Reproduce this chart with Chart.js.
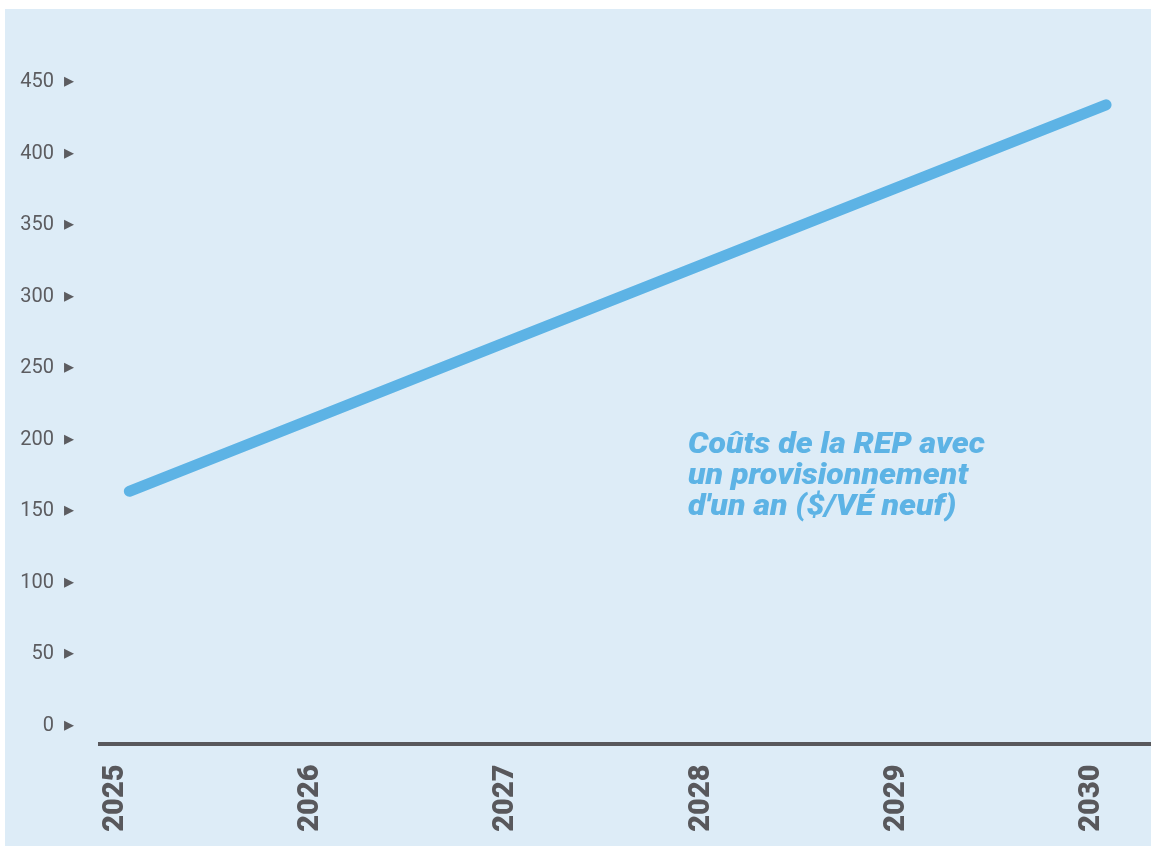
<!DOCTYPE html>
<html>
<head>
<meta charset="utf-8">
<script src="https://cdn.jsdelivr.net/npm/chart.js@4/dist/chart.umd.min.js"></script>
<style>
  html, body { margin: 0; padding: 0; background: #fff; overflow: hidden; }
  canvas { display: block; }
</style>
</head>
<body>
<canvas id="chart" width="1151" height="846"></canvas>
<script>
const years = [2025, 2026, 2027, 2028, 2029, 2030];
const costs = [164, 218, 272, 326, 380, 434];
const yTicks = [0, 50, 100, 150, 200, 250, 300, 350, 400, 450];
const noteLines = ["Coûts de la REP avec", "un provisionnement", "d'un an ($/VÉ neuf)"];

const blue = "#5db3e5";
const panel = "#ddecf7";
const grey = "#58585c";

// light blue panel behind everything
const panelBg = {
    id: "panelBg",
    beforeDraw(chart) {
        const ctx = chart.ctx;
        ctx.save();
        ctx.fillStyle = "#ffffff";
        ctx.fillRect(0, 0, chart.width, chart.height);
        ctx.fillStyle = panel;
        ctx.fillRect(5, 9, chart.width + 10, chart.height + 10);
        ctx.restore();
    }
};

// the series note on the right, stretched a bit to match the wide typeface
const note = {
    id: "note",
    afterDatasetsDraw(chart) {
        const ctx = chart.ctx;
        ctx.save();
        ctx.fillStyle = blue;
        ctx.font = "italic 900 29px Roboto, 'DejaVu Sans', sans-serif";
        ctx.textAlign = "left";
        ctx.textBaseline = "alphabetic";
        const sx = 297 / ctx.measureText(noteLines[0]).width;
        ctx.translate(688, 0);
        ctx.scale(sx, 1);
        noteLines.forEach((t, i) => ctx.fillText(t, 0, 453 + i * 31));
        ctx.restore();
    }
};

new Chart(document.getElementById("chart").getContext("2d"), {
    type: "line",
    data: {
        datasets: [{
            data: years.map((y, i) => ({ x: y, y: costs[i] })),
            borderColor: blue,
            borderWidth: 11,
            borderCapStyle: "round",
            borderJoinStyle: "round",
            pointRadius: 0,
            tension: 0,
            fill: false
        }]
    },
    options: {
        responsive: false,
        animation: false,
        layout: { padding: { top: 30, right: 0, bottom: 0, left: 0 } },
        plugins: { legend: { display: false }, tooltip: { enabled: false } },
        scales: {
            x: {
                type: "linear",
                min: 2024.85,
                max: 2030.23,
                afterBuildTicks: s => { s.ticks = years.map(v => ({ value: v })); },
                afterFit: s => { s.height = 102.5; s.paddingLeft = 0; s.paddingRight = 0; },
                grid: { display: false, drawTicks: false },
                border: { display: true, color: grey, width: 4 },
                ticks: {
                    autoSkip: false,
                    minRotation: 90,
                    maxRotation: 90,
                    padding: 21,
                    labelOffset: -14,
                    color: grey,
                    font: { family: "Roboto", size: 29, weight: "900" },
                    callback: v => String(v)
                }
            },
            y: {
                min: -12.2,
                max: 486.3,
                afterBuildTicks: s => { s.ticks = yTicks.map(v => ({ value: v })); },
                afterFit: s => { s.width = 100; s.paddingTop = 0; s.paddingBottom = 0; },
                grid: { display: false, drawTicks: false },
                border: { display: false },
                ticks: {
                    padding: 26,
                    color: "#5c5c60",
                    font: { family: "Roboto, 'DejaVu Sans'", size: 20, weight: "400" },
                    callback: v => v + "  \u25B8"
                }
            }
        }
    },
    plugins: [panelBg, note]
});
</script>
</body>
</html>
